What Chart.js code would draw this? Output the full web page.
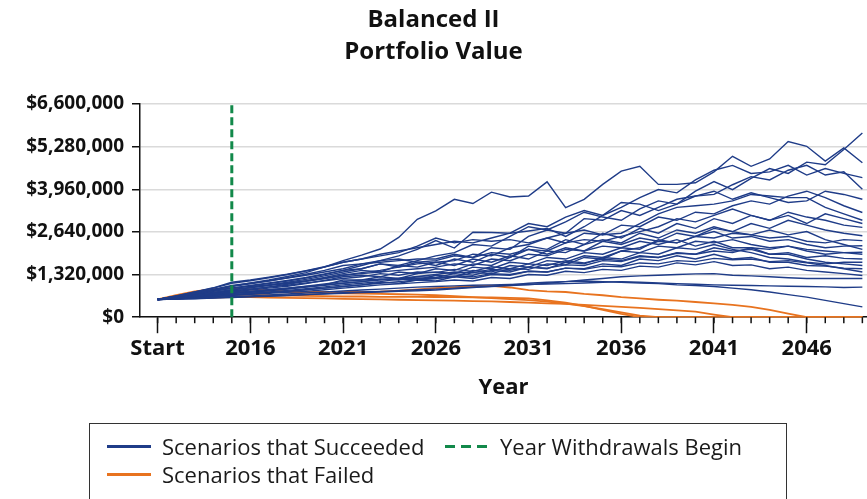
<!DOCTYPE html>
<html>
<head>
<meta charset="utf-8">
<script src="https://cdn.jsdelivr.net/npm/chart.js@4.4.1/dist/chart.umd.min.js"></script>
<style>
  html, body { margin: 0; padding: 0; background: #fff; }
  #wrap { position: relative; width: 867px; height: 499px; overflow: hidden; }
  #legend {
    position: absolute; left: 89px; top: 423px; width: 696px; height: 120px;
    border: 1.5px solid #333; font-family: 'Open Sans', sans-serif; font-size: 22px; color: #1a1a1a;
  }
  .item { position: absolute; display: flex; align-items: center; white-space: nowrap; height: 28px; }
  .swatch { width: 44px; height: 3px; margin-right: 11px; }
</style>
</head>
<body>
<div id="wrap">
  <canvas id="portfolioChart" width="867" height="499"></canvas>
  <div id="legend">
    <div class="item" style="left:17px; top:8px;"><span class="swatch" style="background:#1f3c88"></span>Scenarios that Succeeded</div>
    <div class="item" style="left:355px; top:8px;"><span class="swatch" style="background:repeating-linear-gradient(to right,#12894a 0 10px,transparent 10px 16px)"></span>Year Withdrawals Begin</div>
    <div class="item" style="left:17px; top:36px;"><span class="swatch" style="background:#e8731f"></span>Scenarios that Failed</div>
  </div>
</div>
<script>
// years on the x axis, index 0 = Start
const years = ['Start', '2012', '2013', '2014', '2015', '2016', '2017', '2018', '2019', '2020',
  '2021', '2022', '2023', '2024', '2025', '2026', '2027', '2028', '2029', '2030',
  '2031', '2032', '2033', '2034', '2035', '2036', '2037', '2038', '2039', '2040',
  '2041', '2042', '2043', '2044', '2045', '2046', '2047', '2048', '2049'];
const xTickLabels = ['Start', '2016', '2021', '2026', '2031', '2036', '2041', '2046'];
const yTicks = [0, 1320, 2640, 3960, 5280, 6600]; // $ thousands
const withdrawalYear = '2015';

// portfolio value per scenario, $ thousands
const succeeded = [
  [550,640,740,850,960, 1060,1150,1260,1380,1560,1750, 1920,2110,2470,3030,3290, 3650,3520,3870,3720,3750, 4190,3390,3650,4110,4520, 4670,4110,4110,4160,4500, 4980,4670,4900,5440,5290, 4830,5240,4780],
  [550,630,720,810,900, 980,1060,1140,1230,1340,1450, 1600,1750,1900,2100,2370, 2140,2630,2620,2600,2670, 2750,2500,2800,3150,3550, 3500,3300,3500,3900,4200, 3950,4300,4600,4450,4800, 4720,5190,5700],
  [550,660,780,910,1080, 1150,1240,1330,1440,1560,1700, 1800,1950,2050,2150,2250, 2350,2300,2450,2600,2900, 2800,3100,3300,3150,3400, 3700,3950,3850,4250,4550, 4700,4450,4500,4700,4400, 4600,4450,4320],
  [550,610,680,760,850, 920,1000,1080,1170,1280,1400, 1500,1650,1600,1750,1900, 2000,2250,2200,2500,2800, 2700,2950,3250,3100,3000, 3350,3600,3500,3750,3800, 4100,4350,4250,4550,4700, 4400,4500,3960],
  [550,640,740,840,950, 1030,1120,1220,1330,1450,1600, 1650,1700,1750,1800,1800, 1950,1850,2150,2100,2500, 2700,2600,3050,3000,3300, 3150,3400,3650,3750,3900, 3650,3850,3700,3550,3600, 3900,3800,3650],
  [550,600,660,730,800, 870,940,1020,1110,1200,1300, 1380,1450,1550,1650,1700, 1750,1950,1900,2150,2250, 2450,2300,2600,2550,2850, 2800,3100,3000,3250,3200, 3450,3600,3500,3750,3900, 3700,3450,3240],
  [550,630,710,800,900, 970,1040,1120,1210,1320,1450, 1500,1650,1550,1700,1600, 1800,1700,1950,1850,2200, 2100,2400,2250,2600,2450, 2750,2600,2900,2750,3050, 2900,3150,3000,3250,3100, 3000,2850,2780],
  [550,600,650,710,780, 840,900,960,1040,1140,1250, 1300,1250,1400,1350,1500, 1450,1650,1600,1850,2100, 1950,2150,2050,2350,2250, 2450,2350,2600,2500,2750, 2650,2900,2750,3000,2850, 2700,2600,2520],
  [550,620,700,770,850, 910,980,1050,1130,1230,1350, 1450,1400,1600,1550,1700, 1600,1800,1700,1900,1800, 2050,2000,2250,2400,2300, 2600,2450,2700,2600,2800, 2650,2550,2450,2500,2350, 2300,2400,2370],
  [550,590,640,690,750, 800,850,900,960,1030,1100, 1150,1250,1200,1350,1400, 1350,1550,1500,1700,1650, 1850,1800,2000,1950,2150, 2100,2400,2300,2500,2650, 2450,2500,2350,2400,2250, 2150,2200,2210],
  [550,580,620,660,700, 740,780,830,880,940,1000, 1050,1100,1180,1150,1300, 1250,1450,1400,1600,1550, 1750,1700,1900,1850,2050, 2000,2200,2150,2350,2300, 2400,2250,2150,2200,2050, 1950,2000,2010],
  [550,610,670,740,820, 870,930,990,1060,1130,1200, 1250,1350,1300,1400,1380, 1480,1420,1560,1500,1650, 1600,1750,1680,1800,1750, 1900,1850,2000,1950,2150, 2050,2100,1950,2000,1850, 1900,1820,1800],
  [550,600,650,700,760, 800,850,900,950,1000,1050, 1100,1180,1150,1250,1230, 1350,1300,1450,1400,1550, 1500,1700,1650,1850,1800, 2000,1950,2150,2100,2250, 2100,2000,1850,1800,1700, 1650,1700,1700],
  [550,580,620,660,700, 730,760,800,850,900,950, 1000,1080,1050,1150,1120, 1250,1200,1320,1300,1420, 1400,1520,1500,1650,1600, 1800,1750,1900,1800,1950, 1800,1850,1700,1700,1600, 1580,1520,1500],
  [550,570,600,640,680, 710,740,770,800,850,900, 950,1000,1030,1070,1100, 1150,1120,1230,1200,1320, 1300,1420,1380,1480,1450, 1580,1550,1680,1620,1720, 1600,1620,1500,1550,1450, 1400,1350,1290],
  [550,570,590,610,640, 660,690,720,750,780,810, 840,870,900,930,950, 970,990,1000,1010,1020, 1030,1040,1060,1080,1100, 1080,1060,1040,1020,1000, 990,980,970,960,950, 940,920,930],
  [550,560,580,600,620, 640,660,680,700,720,740, 760,780,800,820,840, 880,920,960,1000,1050, 1080,1100,1120,1100,1080, 1060,1040,1000,980,950, 900,850,780,700,620, 520,420,320],
  [550,650,750,860,980, 1050,1130,1210,1300,1400,1500, 1650,1750,1800,1700,1750, 1900,1850,2000,1950,2100, 2050,2300,2400,2350,2500, 2650,2800,3050,2950,3150, 3350,3150,3000,3150,2900, 3200,3050,2900],
  [550,590,630,680,730, 770,820,870,930,990,1050, 1100,1150,1200,1260,1320, 1400,1380,1480,1450,1550, 1520,1620,1600,1750,1720, 1880,1850,1980,1950,2050, 2000,2150,2100,2200,2100, 2050,2000,1950],
  [550,640,730,820,900, 950,1000,1050,1120,1200,1300, 1350,1400,1450,1500,1550, 1650,1600,1800,1750,1950, 1900,2100,2050,2200,2150, 2350,2250,2400,2200,2350, 2150,2150,1950,1950,1800, 1700,1650,1600],
  [550,600,660,700,740, 780,830,880,940,1000,1150, 1150,1180,1200,1200,1200, 1280,1250,1350,1320,1420, 1400,1520,1480,1580,1560, 1680,1650,1750,1720,1820, 1780,1800,1720,1750,1680, 1600,1500,1400],
  [550,570,600,640,680, 720,760,800,850,900,950, 1000,1050,1100,1150,1200, 1250,1380,1350,1500,1480, 1650,1620,1850,1800,2050, 2150,2350,2300,2500,2450, 2600,2550,2700,2550,2650, 2400,2250,2100],
  [550,560,570,590,610, 630,650,670,700,730,760, 780,800,820,850,870, 900,930,950,980,1000, 1050,1100,1150,1200,1250, 1280,1300,1320,1340,1350, 1300,1280,1250,1220,1200, 1200,1200,1200],
  [550,660,780,900,1050, 1130,1220,1320,1430,1550,1700, 1800,1900,2000,2200,2450, 2300,2400,2350,2400,2300, 2450,2600,2700,2550,2600, 2900,3200,3400,3450,3500, 3600,3800,3750,3700,3700, 3400,3200,3000]
];
const failed = [
  [550,680,800,870,900, 860,830,800,790,780,780, 780,790,820,860,900, 930,960,970,920,840, 800,780,720,680,620, 580,540,510,470,430, 380,320,230,110,0, 0,0,0],
  [550,600,650,690,700, 690,680,670,660,650,640, 640,630,630,630,625, 620,615,610,600,580, 520,450,350,230,100, 0,0,0,0,0, 0,0,0,0,0, 0,0,0],
  [550,580,600,610,620, 620,610,600,590,580,570, 560,550,540,530,520, 510,500,490,470,450, 430,410,380,350,320, 290,250,210,170,80, 0,0,0,0,0, 0,0,0],
  [550,620,700,760,800, 790,780,770,760,750,740, 730,720,710,700,680, 650,620,590,560,530, 480,420,340,250,150, 50,0,0,0,0, 0,0,0,0,0, 0,0,0]
];

const FONT = "'Open Sans', sans-serif";
const BLUE = '#1f3c88', ORANGE = '#e8731f', GREEN = '#12894a';
const toPoints = (vals) => vals.map((v, i) => ({ x: i, y: v }));
const wIdx = years.indexOf(withdrawalYear);

const datasets = [{
  label: 'Year Withdrawals Begin',
  data: [{ x: wIdx, y: 0 }, { x: wIdx, y: yTicks[yTicks.length - 1] }],
  borderColor: GREEN, borderWidth: 3, borderDash: [8, 4], pointRadius: 0
}];
succeeded.forEach(s => datasets.push({
  label: 'Scenarios that Succeeded', data: toPoints(s),
  borderColor: BLUE, borderWidth: 1.4, pointRadius: 0
}));
failed.forEach(s => datasets.push({
  label: 'Scenarios that Failed', data: toPoints(s),
  borderColor: ORANGE, borderWidth: 1.8, pointRadius: 0
}));

// short tick marks for every year
const minorTicks = {
  id: 'minorTicks',
  afterDraw(chart) {
    const sx = chart.scales.x, ctx = chart.ctx, y0 = chart.chartArea.bottom;
    ctx.save();
    ctx.strokeStyle = '#111';
    ctx.lineWidth = 1.5;
    years.forEach((_, i) => {
      const px = sx.getPixelForValue(i);
      ctx.beginPath();
      ctx.moveTo(px, y0);
      ctx.lineTo(px, y0 + 6);
      ctx.stroke();
    });
    ctx.restore();
  }
};

new Chart(document.getElementById('portfolioChart'), {
  type: 'line',
  data: { datasets },
  plugins: [minorTicks],
  options: {
    responsive: false,
    animation: false,
    layout: { padding: { left: 0, right: 0, top: 0, bottom: 94 } },
    elements: { line: { tension: 0 } },
    plugins: {
      legend: { display: false },
      tooltip: { enabled: false },
      title: {
        display: true,
        text: ['Balanced II', 'Portfolio Value'],
        color: '#111',
        font: { family: FONT, size: 24, weight: 'bold', lineHeight: 1.333 },
        padding: { top: 4, bottom: 36 }
      }
    },
    scales: {
      x: {
        type: 'linear',
        min: -0.95,
        max: 38.25,
        afterBuildTicks: (s) => {
          s.ticks = xTickLabels.map(l => ({ value: years.indexOf(l) }));
        },
        ticks: {
          autoSkip: false, maxRotation: 0, padding: 2, color: '#111',
          font: { family: FONT, size: 22, weight: 'bold' },
          callback: (v) => years[v]
        },
        grid: { drawOnChartArea: false, tickLength: 16, tickColor: '#111', tickWidth: 1.5 },
        border: { color: '#111', width: 1.5 },
        title: {
          display: true, text: 'Year', color: '#111',
          font: { family: FONT, size: 22, weight: 'bold' },
          padding: { top: 11, bottom: 4 }
        }
      },
      y: {
        min: 0,
        max: 6600,
        afterFit: (s) => { s.width = 140; },
        afterBuildTicks: (s) => { s.ticks = yTicks.map(v => ({ value: v })); },
        ticks: {
          padding: 8, color: '#111',
          font: { family: FONT, size: 19, weight: 'bold' },
          callback: (v) => '$' + (v * 1000).toLocaleString('en-US')
        },
        grid: { color: '#dadada', lineWidth: 1.5, tickLength: 8, tickColor: '#111', tickWidth: 1.5 },
        border: { color: '#111', width: 1.5 }
      }
    }
  }
});
</script>
</body>
</html>
